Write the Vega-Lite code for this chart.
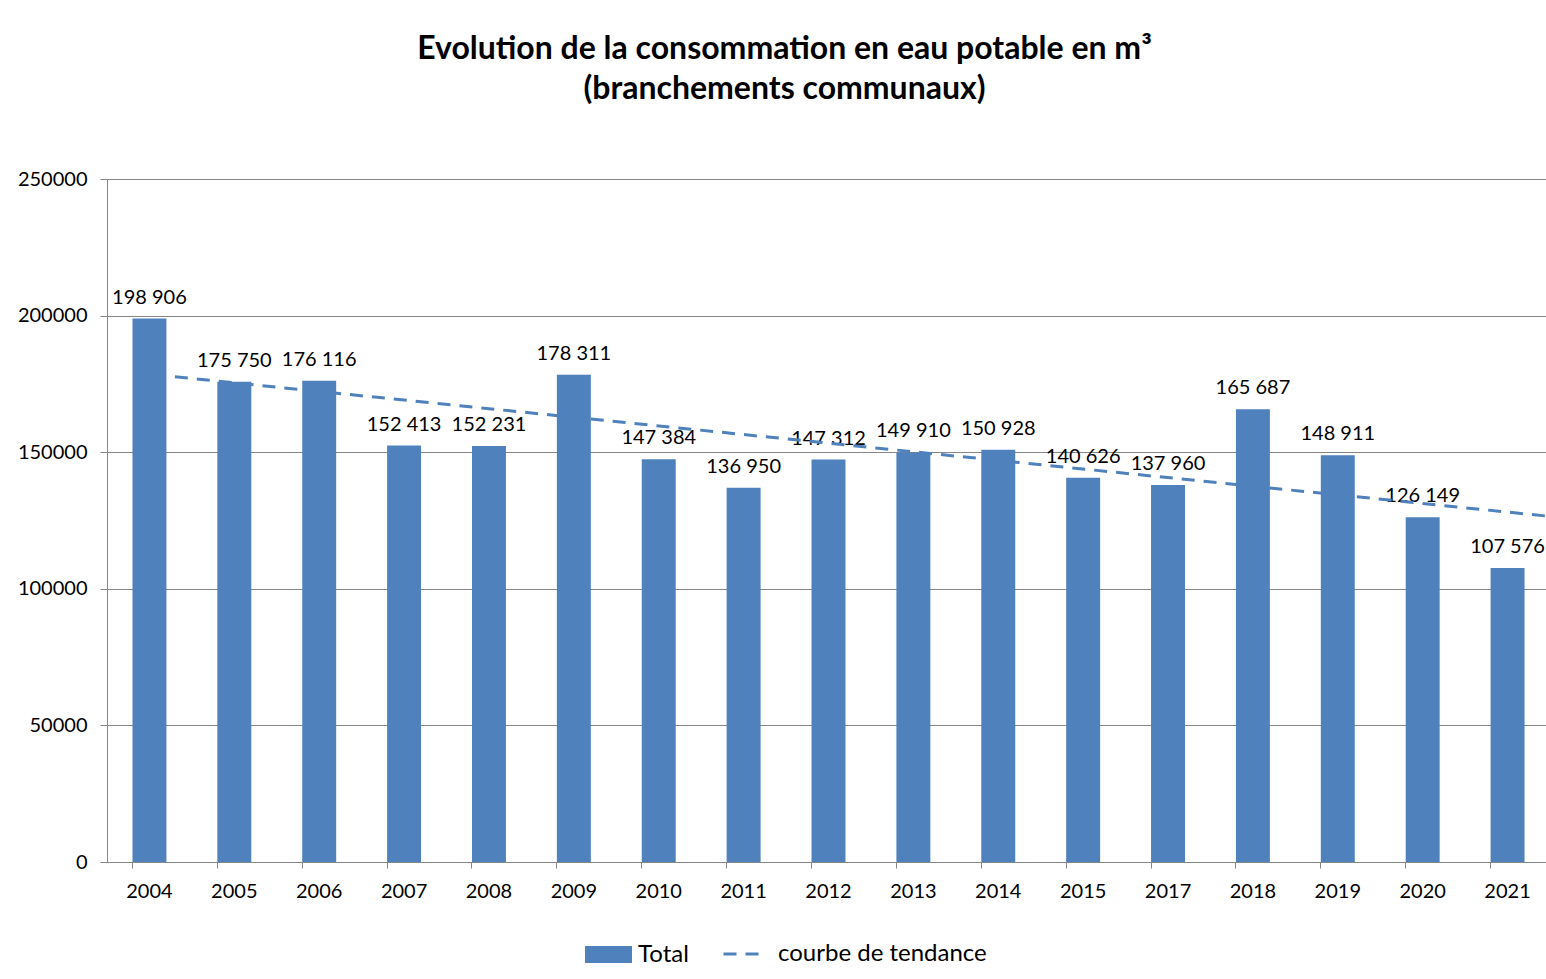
{
  "$schema": "https://vega.github.io/schema/vega-lite/v6.json",
  "width": 1443,
  "height": 683,
  "autosize": "none",
  "padding": {"left": 107, "top": 179, "right": 0, "bottom": 117},
  "background": "white",
  "title": {
    "text": ["Evolution de la consommation en eau potable en m³", "(branchements communaux)"],
    "font": "Lato",
    "fontSize": 32,
    "fontWeight": "bold",
    "color": "black",
    "anchor": "middle",
    "dx": -44,
    "offset": 63,
    "lineHeight": 40
  },
  "datasets": {
    "bars": [
      {"year": "2004", "value": 198906, "label": "198 906", "s": "Total"},
      {"year": "2005", "value": 175750, "label": "175 750", "s": "Total"},
      {"year": "2006", "value": 176116, "label": "176 116", "s": "Total"},
      {"year": "2007", "value": 152413, "label": "152 413", "s": "Total"},
      {"year": "2008", "value": 152231, "label": "152 231", "s": "Total"},
      {"year": "2009", "value": 178311, "label": "178 311", "s": "Total"},
      {"year": "2010", "value": 147384, "label": "147 384", "s": "Total"},
      {"year": "2011", "value": 136950, "label": "136 950", "s": "Total"},
      {"year": "2012", "value": 147312, "label": "147 312", "s": "Total"},
      {"year": "2013", "value": 149910, "label": "149 910", "s": "Total"},
      {"year": "2014", "value": 150928, "label": "150 928", "s": "Total"},
      {"year": "2015", "value": 140626, "label": "140 626", "s": "Total"},
      {"year": "2017", "value": 137960, "label": "137 960", "s": "Total"},
      {"year": "2018", "value": 165687, "label": "165 687", "s": "Total"},
      {"year": "2019", "value": 148911, "label": "148 911", "s": "Total"},
      {"year": "2020", "value": 126149, "label": "126 149", "s": "Total"},
      {"year": "2021", "value": 107576, "label": "107 576", "s": "Total"}
    ],
    "trend": [
      {"t": 0.3, "v": 177600, "s": "courbe de tendance"},
      {"t": 16.5, "v": 126500, "s": "courbe de tendance"}
    ]
  },
  "layer": [
    {
      "data": {"name": "bars"},
      "layer": [
        {
          "mark": {"type": "bar"},
          "encoding": {
            "x": {
              "field": "year", "type": "ordinal",
              "scale": {"paddingInner": 0.6, "paddingOuter": 0.3},
              "axis": {
                "title": null, "labelAngle": 0, "bandPosition": 0,
                "domainColor": "#868686", "tickColor": "#868686", "tickSize": 6,
                "labelFont": "Lato", "labelFontSize": 20, "labelColor": "black",
                "labelPadding": 13, "grid": false
              }
            },
            "y": {
              "field": "value", "type": "quantitative",
              "scale": {"domain": [0, 250000], "nice": false},
              "axis": {
                "title": null, "values": [0, 50000, 100000, 150000, 200000, 250000],
                "format": "d", "domainColor": "#868686", "tickColor": "#868686", "tickSize": 7,
                "gridColor": "#868686", "labelFont": "Lato", "labelFontSize": 20,
                "labelColor": "black", "labelPadding": 13
              }
            },
            "color": {
              "field": "s", "type": "nominal",
              "scale": {"domain": ["Total"], "range": ["#4F81BD"]},
              "legend": {
                "title": null, "orient": "none", "legendX": 478, "legendY": 752,
                "symbolType": "M-1,-0.36H1V0.36H-1Z", "symbolSize": 2209,
                "symbolStrokeWidth": 0, "labelFont": "Lato", "labelFontSize": 24,
                "labelColor": "black", "labelOffset": 6, "labelLimit": 400
              }
            }
          }
        },
        {
          "mark": {"type": "text", "baseline": "bottom", "dy": -11, "font": "Lato", "fontSize": 20, "color": "black"},
          "encoding": {
            "x": {"field": "year", "type": "ordinal"},
            "y": {"field": "value", "type": "quantitative"},
            "text": {"field": "label"}
          }
        }
      ]
    },
    {
      "data": {"name": "trend"},
      "mark": {"type": "line", "color": "#4F81BD", "strokeWidth": 3},
      "encoding": {
        "x": {"field": "t", "type": "quantitative", "scale": {"domain": [-0.5, 16.5], "nice": false, "zero": false}, "axis": null},
        "y": {"field": "v", "type": "quantitative"},
        "strokeDash": {
          "field": "s", "type": "nominal",
          "scale": {"domain": ["courbe de tendance"], "range": [[13, 9]]},
          "legend": {
            "title": null, "orient": "none", "legendX": 615, "legendY": 752,
            "symbolType": "stroke", "symbolSize": 1849, "symbolStrokeWidth": 3,
            "symbolStrokeColor": "#4F81BD",
            "labelFont": "Lato", "labelFontSize": 24, "labelColor": "black", "labelOffset": 10, "labelLimit": 400
          }
        }
      }
    }
  ],
  "resolve": {"scale": {"x": "independent"}, "axis": {"x": "independent"}},
  "config": {
    "view": {"stroke": null},
    "axis": {"gridWidth": 1, "domainWidth": 1, "tickWidth": 1}
  }
}
